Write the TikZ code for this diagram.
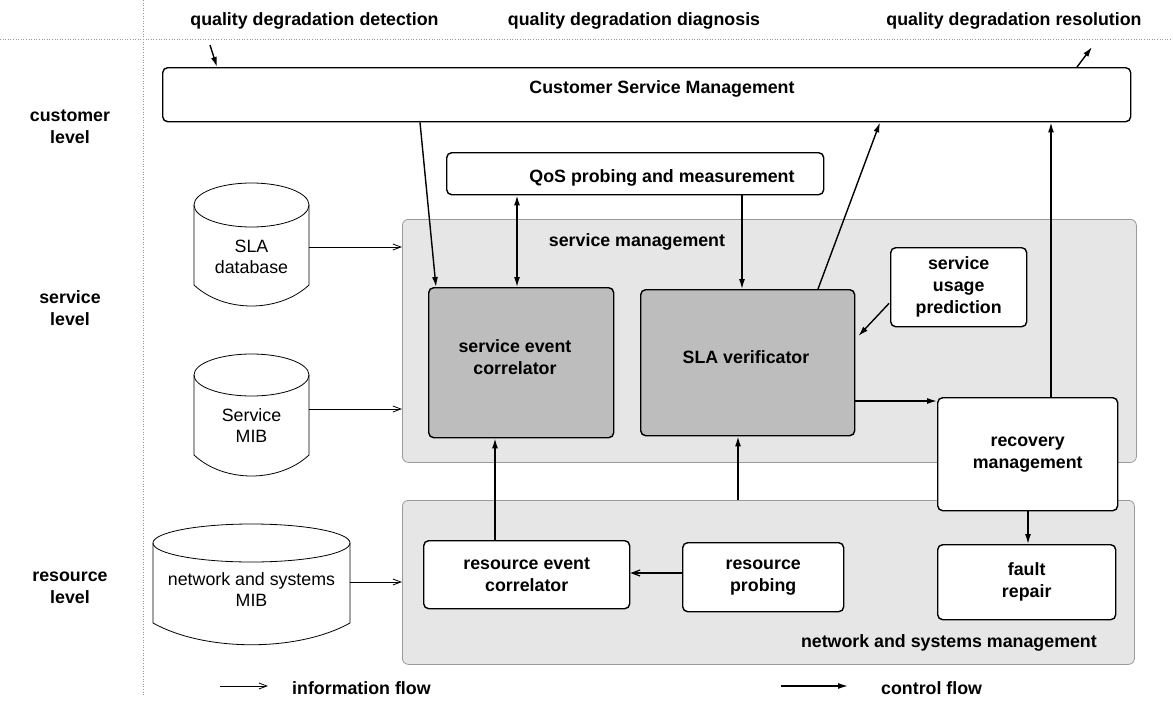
\documentclass[tikz,border=0pt]{standalone}
\usepackage{fontspec}
\setmainfont{Liberation Sans}
\usetikzlibrary{arrows.meta,calc}
\definecolor{bgfill}{HTML}{E6E6E6}
\definecolor{bgline}{HTML}{9A9A9A}
\definecolor{darkfill}{HTML}{BDBDBD}
\tikzset{
  bf/.style={font=\fontsize{17.8}{22}\selectfont\bfseries, align=center, inner sep=0pt},
  rf/.style={font=\fontsize{17.8}{21}\selectfont, align=center, inner sep=0pt},
  wbox/.style={bf, draw, line width=1.4pt, rounded corners=5pt, fill=white, anchor=north west},
  dbox/.style={wbox, fill=darkfill},
  bgbox/.style={draw=bgline, line width=0.8pt, rounded corners=6pt, fill=bgfill, anchor=north west, inner sep=0pt},
  cyl/.style={draw, line width=0.8pt},
  ctrl/.style={line width=1.4pt, -{Latex[length=10pt,width=6pt]}},
  ctrlboth/.style={line width=1.4pt, {Latex[length=10pt,width=6pt]}-{Latex[length=10pt,width=6pt]}},
  info/.style={line width=0.8pt, -{Straight Barb[length=8pt,width=6pt]}},
  guide/.style={draw=black!40, dotted, line width=0.6pt},
}
\begin{document}
\begin{tikzpicture}[x=1pt,y=-1pt]
\useasboundingbox (0,0) rectangle (1173,720);

% guide lines
\coordinate (vg1) at (143,0);
\coordinate (vg2) at (143,695);
\coordinate (hg1) at (0,39);
\coordinate (hg2) at (1173,39);
\draw[guide] (vg1) -- (vg2);
\draw[guide] (hg1) -- (hg2);

% headers
\node[bf] (h1) at (314.5,21) {quality degradation detection};
\node[bf] (h2) at (634,21) {quality degradation diagnosis};
\node[bf] (h3) at (1014,21) {quality degradation resolution};

% level labels
\node[bf] (lvc) at (70,126.5) {customer\\level};
\node[bf] (lvs) at (70,308.5) {service\\level};
\node[bf] (lvr) at (70,588) {resource\\level};

% background areas
\node[bgbox, minimum width=734pt, minimum height=243pt] (sm) at (402,219) {};
\node[bgbox, minimum width=732pt, minimum height=164pt] (nsm) at (402,500) {};
\node[bf] (smlab) at (637,242) {service management};
\node[bf, anchor=east] (nsmlab) at (1097,643) {network and systems management};

% boxes
\node[wbox, minimum width=968pt, minimum height=54pt] (csm) at (162,67) {};
\node[bf] (csmlab) at (662,89) {Customer Service Management};
\node[wbox, minimum width=377pt, minimum height=42pt] (qos) at (446,152) {};
\node[bf] (qoslab) at (662,178) {QoS probing and measurement};
\node[dbox, minimum width=185pt, minimum height=150pt] (sec) at (428,287) {};
\node[bf] (seclab) at (515,357) {service event\\correlator};
\node[dbox, minimum width=214pt, minimum height=146pt] (slav) at (640,289) {};
\node[bf] (slavlab) at (746,357) {SLA verificator};
\node[wbox, minimum width=136pt, minimum height=79pt] (sup) at (890,247) {service\\usage\\prediction};
\node[wbox, minimum width=180pt, minimum height=113pt] (rec) at (937,397) {recovery\\management};
\node[wbox, minimum width=178pt, minimum height=75pt] (fr) at (937,544) {fault\\repair};
\node[wbox, minimum width=206pt, minimum height=68pt] (rev) at (423,540) {resource event\\correlator};
\node[wbox, minimum width=161pt, minimum height=69pt] (rp) at (682,542) {resource\\probing};

% cylinders
\draw[cyl] (194,205) -- (194,285) .. controls (224,313) and (279,313) .. (309,285) -- (309,205);
\draw[cyl] (251.5,205) ellipse [x radius=57.5pt, y radius=22pt];
\draw[cyl] (194,375) -- (194,455) .. controls (224,483) and (279,483) .. (309,455) -- (309,375);
\draw[cyl] (251.5,375) ellipse [x radius=57.5pt, y radius=21pt];
\draw[cyl] (153,543) -- (153,623) .. controls (205,652) and (298,652) .. (350,623) -- (350,543);
\draw[cyl] (251.5,543) ellipse [x radius=98.5pt, y radius=19pt];
\node[rf] (sladb) at (251.5,257) {SLA\\database};
\node[rf] (smib) at (251.5,426) {Service\\MIB};
\node[rf] (nsmib) at (251.5,590) {network and systems\\MIB};
\coordinate (sladbE) at (309,247);
\coordinate (smibE) at (309,409);
\coordinate (nsmibE) at (350,582);

% information flows
\draw[info] (sladbE) -- (sladbE -| sm.west);
\draw[info] (smibE) -- (smibE -| sm.west);
\draw[info] (nsmibE) -- (nsmibE -| nsm.west);
\draw[info, line width=1.2pt] ($(rp.north west)+(0,31)$) -- ($(rev.north east)+(0,33)$);

% control flows
\coordinate (detS) at (210,45);
\coordinate (resE) at (1092,47);
\draw[ctrl] (detS) -- ($(csm.north west)+(55,0)$);
\draw[ctrl] ($(csm.north west)+(915,0)$) -- (resE);
\draw[ctrl] ($(csm.south west)+(258,0)$) -- ($(sec.north west)+(8,0)$);
\draw[ctrlboth] ($(qos.south west)+(71,0)$) -- ($(sec.north west)+(89,0)$);
\draw[ctrl] ($(qos.south west)+(296,0)$) -- ($(slav.north west)+(102,0)$);
\draw[ctrl] ($(slav.north west)+(178,0)$) -- ($(csm.south west)+(718,0)$);
\draw[ctrl] ($(sup.south west)+(-1,-24)$) -- ($(slav.north east)+(3,47)$);
\draw[ctrl] ($(slav.north east)+(0,112)$) -- ($(rec.north west)+(0,4)$);
\draw[ctrl] ($(rec.north west)+(114,0)$) -- ($(csm.south west)+(889,0)$);
\draw[ctrl] ($(rec.south west)+(91,0)$) -- ($(fr.north west)+(91,0)$);
\draw[ctrl] ($(rev.north west)+(72,0)$) -- ($(sec.south west)+(67,0)$);
\draw[ctrl] ($(nsm.north west)+(336,0)$) -- ($(slav.south west)+(98,0)$);

% legend
\coordinate (lgA1) at (220,686);
\coordinate (lgA2) at (268,686);
\coordinate (lgB1) at (781,686);
\coordinate (lgB2) at (848,686);
\draw[info] (lgA1) -- (lgA2);
\draw[ctrl] (lgB1) -- (lgB2);
\node[bf, anchor=west] (lgT1) at (292,688) {information flow};
\node[bf, anchor=west] (lgT2) at (881,688) {control flow};
\end{tikzpicture}
\end{document}
